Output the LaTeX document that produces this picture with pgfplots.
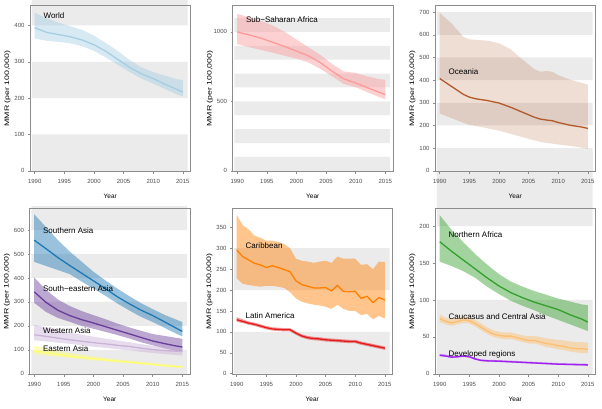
\documentclass[border=0pt]{standalone}
\usepackage{graphicx}
\usepackage{pgfplots}
\pgfplotsset{compat=1.18}
\usepackage{pgfplotstable}
\usepgfplotslibrary{fillbetween}
\usepackage{fontspec}
\setmainfont{Liberation Sans}

\definecolor{bandgray}{HTML}{EBEBEB}
\definecolor{framegray}{HTML}{8C8C8C}
\definecolor{tickgray}{HTML}{4D4D4D}
\definecolor{cWorld}{HTML}{A6CEE3}
\definecolor{cSSA}{HTML}{FB9A99}
\definecolor{cOce}{HTML}{B15928}
\definecolor{cSAs}{HTML}{1F78B4}
\definecolor{cSEA}{HTML}{6A3D9A}
\definecolor{cWAs}{HTML}{CAB2D6}
\definecolor{cEAs}{HTML}{FFFF70}
\definecolor{cCar}{HTML}{FF7F00}
\definecolor{cLat}{HTML}{E31A1C}
\definecolor{cNAf}{HTML}{33A02C}
\definecolor{cCCA}{HTML}{FDBF6F}
\definecolor{cDev}{HTML}{A020F0}

% yr mid lo hi
\pgfplotstableread{
yr mid lo hi
1990 394 364 435
1992 381 358 420
1994 375 355 408
1996 369 351 398
1998 360 343 388
2000 347 330 372
2002 329 312 352
2004 307 292 330
2006 285 272 305
2008 267 254 285
2010 254 240 272
2012 238 225 262
2014 224 210 252
2015 217 205 250
}\world

\pgfplotstableread{
yr mid lo hi
1990 1000 912 1130
1992 978 890 1105
1994 955 870 1080
1996 925 850 1045
1998 895 828 1000
2000 862 808 945
2002 828 780 890
2004 780 735 835
2006 718 680 770
2008 662 625 715
2010 632 602 705
2012 598 565 680
2014 565 530 660
2015 548 515 655
}\ssa

\pgfplotstableread{
yr mid lo hi
1990 407 253 697
1992 372 232 650
1994 337 212 590
1995 325 203 580
1996 318 198 578
1998 310 188 574
2000 299 177 563
2002 280 163 535
2004 258 148 490
2006 236 134 448
2007 228 128 437
2008 224 123 440
2009 221 120 437
2010 213 116 422
2012 201 110 402
2014 193 102 388
2015 187 97 380
}\oceania

\pgfplotstableread{
yr mid lo hi
1990 558 467 666
1992 522 450 612
1994 485 433 558
1996 452 416 510
1998 420 385 468
2000 388 356 426
2002 356 326 390
2004 322 294 356
2006 293 265 325
2008 266 238 295
2010 243 216 270
2012 217 192 246
2014 190 167 226
2015 177 156 216
}\sasia

\pgfplotstableread{
yr mid lo hi
1990 342 296 402
1992 298 258 350
1994 265 233 310
1996 243 217 283
1998 226 200 262
2000 212 188 245
2002 197 175 228
2004 182 162 210
2006 167 148 194
2008 152 132 180
2010 137 119 166
2012 126 106 158
2014 116 95 150
2015 112 91 146
}\seasia

\pgfplotstableread{
yr mid lo hi
1990 163 140 205
1992 156 135 193
1994 149 130 182
1996 142 125 172
1998 136 119 163
2000 130 113 155
2002 125 108 147
2004 119 103 139
2006 114 98 132
2008 107 92 124
2010 101 87 117
2012 97 82 113
2014 94 78 110
2015 93 76 109
}\wasia

\pgfplotstableread{
yr mid lo hi
1990 96 82 118
1992 88 76 106
1994 81 71 96
1996 74 66 87
1998 68 61 79
2000 63 56 72
2002 58 52 66
2004 53 47 60
2006 49 44 55
2008 44 39 50
2010 39 35 45
2012 34 30 40
2014 30 26 35
2015 28 24 33
}\easia

\pgfplotstableread{
yr mid lo hi
1990 296 228 380
1991 280 215 355
1992 272 212 345
1993 264 210 330
1994 260 208 325
1995 254 210 318
1996 258 210 318
1997 254 208 315
1998 249 205 310
1999 244 195 300
2000 222 180 275
2001 213 172 270
2002 209 168 268
2003 205 165 265
2004 205 163 268
2005 206 160 270
2006 198 155 265
2007 211 165 280
2008 197 155 275
2009 196 150 275
2010 197 150 275
2011 180 140 260
2012 185 143 262
2013 170 130 250
2014 182 138 268
2015 176 132 267
}\carib

\pgfplotstableread{
yr mid lo hi
1990 129 124 135
1991 125 121 130
1992 121 117 125
1993 118 114 122
1994 114 110 118
1995 110 106 114
1996 107 103 111
1997 106 102 110
1998 105 101 109
1999 105 101 109
2000 97 93 101
2001 90 86 94
2002 86 82 90
2003 84 80 88
2004 83 79 87
2005 81 77 85
2006 80 76 84
2007 79 75 83
2008 78 74 82
2009 77 73 81
2010 77 73 81
2011 73 69 77
2012 70 66 74
2013 67 63 71
2014 64 60 68
2015 61 57 65
}\latam

\pgfplotstableread{
yr mid lo hi
1990 179 152 215
1992 166 146 195
1994 154 139 178
1996 142 130 162
1998 130 118 148
2000 119 108 135
2002 110 99 125
2004 103 92 118
2006 97 86 112
2008 92 79 107
2010 87 73 102
2012 80 67 98
2014 74 61 94
2015 70 58 93
}\nafrica

\pgfplotstableread{
yr mid lo hi
1990 75 70 80
1991 71 67 76
1992 69 65 74
1993 71 67 76
1994 73 69 78
1995 72 68 77
1996 68 64 73
1997 63 59 68
1998 58 54 63
1999 54 50 59
2000 52 48 57
2001 51 47 56
2002 51 47 56
2003 49 45 54
2004 47 43 52
2005 45 41 51
2006 45 41 51
2007 43 39 50
2008 41 36 48
2009 40 35 47
2010 38 33 46
2011 37 32 45
2012 35 30 44
2013 34 29 43
2014 34 28 43
2015 33 28 42
}\cca

\pgfplotstableread{
yr mid lo hi
1990 25 24 27
1991 24 23 26
1992 22.5 21.5 24
1993 23 22 24.5
1994 24 23 25.5
1995 23 22 24.5
1996 20 19 21.5
1997 18 17 19.5
1998 17.5 16.5 19
2000 17 16 18.5
2005 15 14 16.5
2010 13 12 14.5
2015 12 11 13.5
}\devd

\pgfplotsset{
  panel/.style={
    set layers,
    scale only axis, width=160.5pt, height=166pt,
    xmin=1989.2, xmax=2016.3,
    xtick={1990,1995,2000,2005,2010,2015},
    tick pos=left, tick align=outside, major tick length=2pt,
    axis line style={draw=framegray, line width=0.6pt},
    every tick/.style={draw=framegray, line width=0.5pt},
    /pgf/number format/1000 sep={},
    /pgf/number format/assume math mode=true,
    tick label style={font=\fontsize{6}{7}\selectfont, text=tickgray},
    xticklabel style={yshift=-2.5pt},
    xlabel={Year},
    ylabel={\scalebox{1.35}[1]{MMR (per 100,000)}},
    label style={font=\fontsize{6.5}{7}\selectfont},
    x label style={at={(axis description cs:0.5,-0.152)}, anchor=center},
    y label style={at={(axis description cs:-0.14,0.5)}, anchor=center},
  },
  rib/.style={draw=none, fill=#1, fill opacity=0.45},
  ln/.style={draw=#1, line width=1.3pt, mark=none},
}
\tikzset{lab/.style={anchor=west, font=\fontsize{8}{9}\selectfont}}

% grey background stripes, kept below the ribbons
\newcommand{\band}[2]{\addplot[draw=none, fill=bandgray, mark=none, forget plot, on layer=axis background] coordinates {(1989.5,#1) (2015.8,#1) (2015.8,#2) (1989.5,#2) (1989.5,#1)};}

% ribbon + line from one table
\newcommand{\series}[3]{%
  \addplot[draw=none, mark=none, name path=#1hi, forget plot] table[x=yr,y=hi]{#2};
  \addplot[draw=none, mark=none, name path=#1lo, forget plot] table[x=yr,y=lo]{#2};
  \addplot[rib=#3] fill between[of=#1hi and #1lo];
  \addplot[ln=#3] table[x=yr,y=mid]{#2};
}

\begin{document}
\begin{tikzpicture}
\path (0pt,0pt) rectangle (602pt,408pt);

% World
\begin{axis}[panel, at={(30pt,236.5pt)}, ymin=-2, ymax=455, ytick={0,100,...,400}]
\band{0}{100}\band{200}{300}\band{400}{500}
\series{w}{\world}{cWorld}
\node[lab] at (axis cs:1990.9,427) {World};
\end{axis}

% Sub-Saharan Africa
\begin{axis}[panel, at={(232.5pt,236.5pt)}, ymin=-5, ymax=1190, ytick={0,500,1000}]
\band{0}{100}\band{200}{300}\band{400}{500}\band{600}{700}\band{800}{900}\band{1000}{1100}
\series{s}{\ssa}{cSSA}
\node[lab] at (axis cs:1990.9,1091) {Sub−Saharan Africa};
\end{axis}

% Oceania
\begin{axis}[panel, at={(435pt,236.5pt)}, ymin=-3, ymax=729, ytick={0,100,...,700}]
\band{0}{100}\band{200}{300}\band{400}{500}\band{600}{700}
\addplot[draw=none, mark=none, name path=ohi, forget plot] table[x=yr,y=hi]{\oceania};
\addplot[draw=none, mark=none, name path=olo, forget plot] table[x=yr,y=lo]{\oceania};
\addplot[draw=none, fill=cOce, fill opacity=0.2] fill between[of=ohi and olo];
\addplot[ln=cOce] table[x=yr,y=mid]{\oceania};
\node[lab] at (axis cs:1990.9,436) {Oceania};
\end{axis}

% Asia
\begin{axis}[panel, at={(29.5pt,33.5pt)}, ymin=-3, ymax=690, ytick={0,100,...,600}]
\band{0}{100}\band{200}{300}\band{400}{500}\band{600}{700}
\series{a}{\sasia}{cSAs}
\series{b}{\seasia}{cSEA}
\series{c}{\wasia}{cWAs}
\series{d}{\easia}{cEAs}
\node[lab] at (axis cs:1990.9,596) {Southern Asia};
\node[lab] at (axis cs:1990.9,356) {South−eastern Asia};
\node[lab] at (axis cs:1990.9,179) {Western Asia};
\node[lab] at (axis cs:1990.9,107) {Eastern Asia};
\end{axis}

% Caribbean / Latin America
\begin{axis}[panel, at={(232pt,33.5pt)}, ymin=-2, ymax=395, ytick={0,50,...,350}]
\band{0}{100}\band{200}{300}
\series{c}{\carib}{cCar}
\series{l}{\latam}{cLat}
\node[lab] at (axis cs:1990.9,305) {Caribbean};
\node[lab] at (axis cs:1990.9,138) {Latin America};
\end{axis}

% Northern Africa / CCA / Developed
\begin{axis}[panel, at={(435pt,33.5pt)}, ymin=-1, ymax=224, ytick={0,50,...,200}]
\band{0}{100}\band{200}{300}
\series{n}{\nafrica}{cNAf}
\series{k}{\cca}{cCCA}
\series{v}{\devd}{cDev}
\node[lab] at (axis cs:1990.9,189) {Northern Africa};
\node[lab] at (axis cs:1990.9,77) {Caucasus and Central Asia};
\node[lab] at (axis cs:1990.9,26) {Developed regions};
\end{axis}
\end{tikzpicture}
\end{document}
